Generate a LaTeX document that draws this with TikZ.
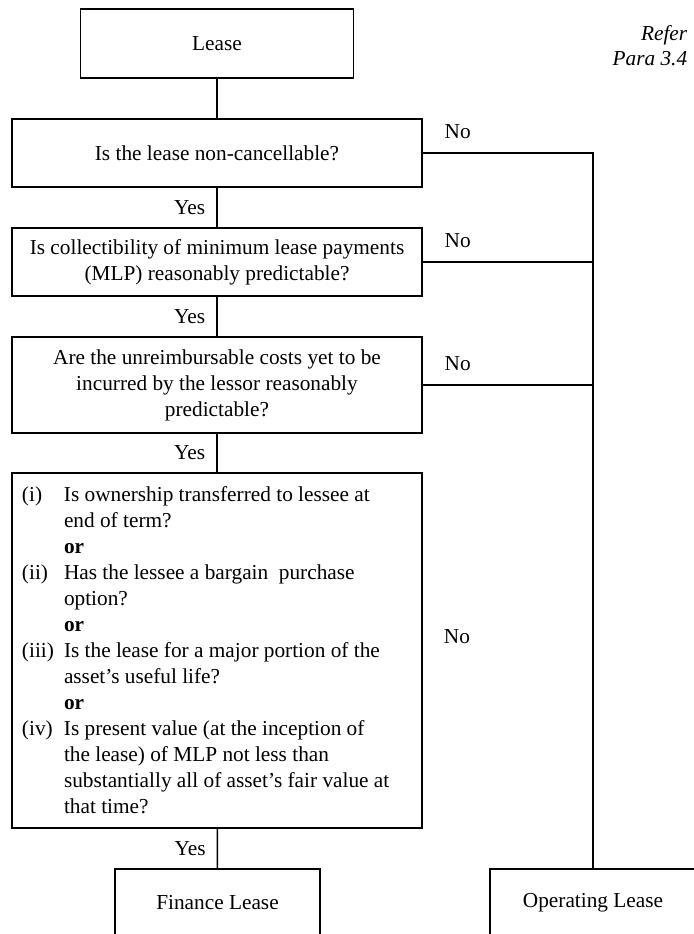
\documentclass[tikz,border=0pt]{standalone}
\usepackage{fontspec}
\setmainfont{Liberation Serif}
\usepackage{tikz}

\newlength{\lblw}
\setlength{\lblw}{21pt}

\begin{document}
\begin{tikzpicture}[x=0.5pt, y=-0.5pt, line width=0.8pt,
        font=\fontsize{10.65}{13}\selectfont,
        box/.style={rectangle, draw, inner sep=0pt, align=center},
        yeslbl/.style={midway, left=5.5pt, inner sep=0pt},
        nolbl/.style={pos=0.205, above=7pt, inner sep=0pt}]
        \useasboundingbox (0,0) rectangle (694,934);

        % Define nodes of the decision chain
        \node[box, minimum width=136.5pt, minimum height=34.5pt] (lease) at (217,43.5) {Lease};
        \node[box, minimum width=205pt, minimum height=34pt] (noncancel) at (217,153) {Is the lease non-cancellable?};
        \node[box, minimum width=205pt, minimum height=34pt] (collect) at (217,262)
            {Is collectibility of minimum lease payments\\(MLP) reasonably predictable?};
        \node[box, minimum width=205pt, minimum height=48pt] (costs) at (217,385)
            {Are the unreimbursable costs yet to be\\incurred by the lessor reasonably\\predictable?};
        \node[box, text width=195pt, inner xsep=5pt, minimum height=177.5pt, align=flush left] (tests) at (217,650.5)
            {\makebox[\lblw][l]{(i)}Is ownership transferred to lessee at\\
             \hspace*{\lblw}end of term?\\
             \hspace*{\lblw}\textbf{or}\\
             \makebox[\lblw][l]{(ii)}Has the lessee a bargain\ \ purchase\\
             \hspace*{\lblw}option?\\
             \hspace*{\lblw}\textbf{or}\\
             \makebox[\lblw][l]{(iii)}Is the lease for a major portion of the\\
             \hspace*{\lblw}asset's useful life?\\
             \hspace*{\lblw}\textbf{or}\\
             \makebox[\lblw][l]{(iv)}Is present value (at the inception of\\
             \hspace*{\lblw}the lease) of MLP not less than\\
             \hspace*{\lblw}substantially all of asset's fair value at\\
             \hspace*{\lblw}that time?};
        \node[box, minimum width=102.5pt, minimum height=34pt] (finance) at (217.5,903) {Finance Lease};
        \node[box, minimum width=103pt, minimum height=34pt] (operating) at (593,903) {Operating Lease};

        % Reference note and the extra No label
        \node[font=\fontsize{10.65}{12.5}\selectfont\itshape, align=right, anchor=east, inner sep=0pt] (refer) at (688,45.5) {Refer\\Para 3.4};
        \node[inner sep=0pt] (notests) at (457,637) {No};

        % Yes path down the left
        \draw (lease) -- (noncancel);
        \draw (noncancel) -- node[yeslbl] {Yes} (collect);
        \draw (collect) -- node[yeslbl] {Yes} (costs);
        \draw (costs) -- node[yeslbl] {Yes} (tests);
        \draw (tests) -- node[yeslbl] {Yes} (finance);

        % No paths to the right
        \draw (noncancel.east) -- node[nolbl] {No} (noncancel.east -| operating.north) -- (operating.north);
        \draw (collect.east) -- node[nolbl] {No} (collect.east -| operating.north);
        \draw (costs.east) -- node[nolbl] {No} (costs.east -| operating.north);

    \end{tikzpicture}
\end{document}
